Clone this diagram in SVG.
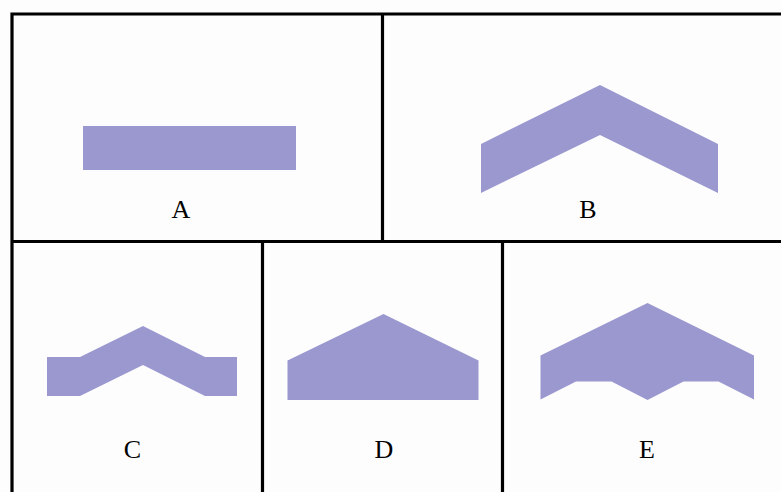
<svg xmlns="http://www.w3.org/2000/svg" width="781" height="492" viewBox="0 0 781 492">
<style>
.ln{stroke:#000;stroke-width:3.2;fill:none;stroke-linecap:square}
.sh{fill:#9a98cf}
.lb{font-family:"Liberation Serif",serif;font-size:26px;fill:#000;text-anchor:middle}
</style>
<rect x="0" y="0" width="781" height="492" fill="#fdfdfd"/>
<g id="grid">
<path class="ln" d="M12 14 H781 M12 14 V492 M12 241.5 H781 M382.5 14 V241.5 M262.5 241.5 V492 M502.5 241.5 V492"/>
</g>
<g id="A">
<rect class="sh" x="83" y="126" width="213" height="44"/>
<text class="lb" x="181" y="218">A</text>
</g>
<g id="B">
<polygon class="sh" points="481,193 481,144 600,85 718,144 718,193 600,135"/>
<text class="lb" x="588" y="218">B</text>
</g>
<g id="C">
<polygon class="sh" points="47,357 80,357 143,326 205,357 237,357 237,396 205,396 143,365 80,396 47,396"/>
<text class="lb" x="132.5" y="458">C</text>
</g>
<g id="D">
<polygon class="sh" points="287.5,400 287.5,360.5 383.5,314 478.5,360.5 478.5,400"/>
<text class="lb" x="384" y="458">D</text>
</g>
<g id="E">
<polygon class="sh" points="540.5,355.5 647.5,303 754,355.5 754,399.5 718.5,381.5 683.5,381.5 647.5,400 611.5,381.5 576,381.5 540.5,399.5"/>
<text class="lb" x="647" y="458">E</text>
</g>
</svg>
